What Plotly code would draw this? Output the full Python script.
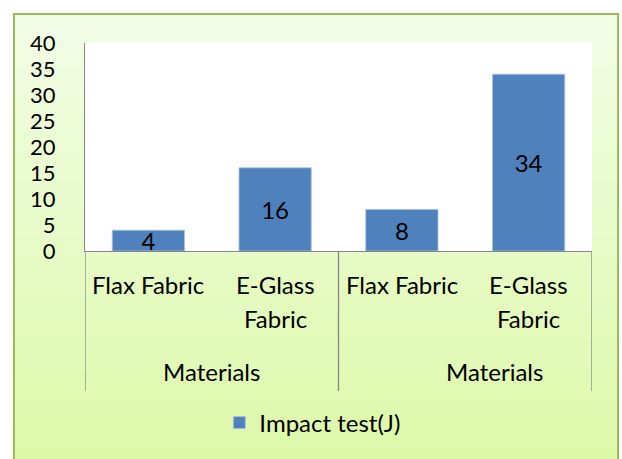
import plotly.graph_objects as go

# ---- data ----
categories = ["Flax Fabric", "E-Glass\nFabric", "Flax Fabric", "E-Glass\nFabric"]
groups = ["Materials", "Materials"]
group_sizes = [2, 2]
impact_values = [4, 16, 8, 34]
series_name = "Impact test(J)"
y_ticks = [0, 5, 10, 15, 20, 25, 30, 35, 40]

W, H = 622, 459
L, R, T, B = 85, 30, 43, 208
PW, PH = W - L - R, H - T - B
FONT = "Lato"
FS = 24


def px_x(p):
    return (p - L) / PW


def px_y(p):
    return (H - B - p) / PH


x_pos = list(range(len(categories)))

fig = go.Figure()
fig.add_trace(go.Bar(
    x=x_pos, y=impact_values, name=series_name,
    text=[str(v) for v in impact_values],
    textposition="inside", insidetextanchor="middle", constraintext="none",
    textangle=0,
    textfont=dict(family=FONT, size=FS, color="black"),
    marker=dict(color="#4f81bd", line=dict(color="#a9c1df", width=0.8)),
    showlegend=True,
))

shapes = []
# gradient background inside the chart frame
top_c = (242, 253, 230)
bot_c = (220, 249, 168)
y_top, y_bot = 14, 470
n = 60
for i in range(n):
    t = i / (n - 1)
    c = tuple(round(top_c[k] + (bot_c[k] - top_c[k]) * t) for k in range(3))
    ya = y_top + (y_bot - y_top) * i / n
    yb = y_top + (y_bot - y_top) * (i + 1) / n + 1
    shapes.append(dict(type="rect", xref="paper", yref="paper", layer="below",
                       x0=px_x(14), x1=px_x(618), y0=px_y(ya), y1=px_y(yb),
                       fillcolor="rgb(%d,%d,%d)" % c, line=dict(width=0)))
# white plot area
shapes.append(dict(type="rect", xref="paper", yref="paper", layer="below",
                   x0=0, x1=1, y0=0, y1=1, fillcolor="white", line=dict(width=0)))
# frame border
shapes.append(dict(type="rect", xref="paper", yref="paper", layer="above",
                   x0=px_x(14), x1=px_x(618), y0=px_y(14), y1=px_y(480),
                   fillcolor="rgba(0,0,0,0)", line=dict(color="#9bbb59", width=2)))

# group dividers
bounds = [-0.5]
for s in group_sizes:
    bounds.append(bounds[-1] + s)
for b in bounds:
    shapes.append(dict(type="line", xref="x", yref="paper", x0=b, x1=b,
                       y0=0, y1=px_y(391), line=dict(color="#868686", width=1.3)))

annotations = []
for i, cat in enumerate(categories):
    for j, line in enumerate(cat.split("\n")):
        annotations.append(dict(x=i, y=0, xref="x", yref="paper", text=line,
                                showarrow=False, yanchor="middle", xanchor="center",
                                yshift=-(33 + 34 * j),
                                font=dict(family=FONT, size=FS, color="black")))
group_shift = [0, 29]
for g, name in enumerate(groups):
    center = (bounds[g] + bounds[g + 1]) / 2
    annotations.append(dict(x=center, y=0, xref="x", yref="paper", text=name,
                            showarrow=False, yanchor="middle", xanchor="center",
                            yshift=-120, xshift=group_shift[g],
                            font=dict(family=FONT, size=FS, color="black")))

fig.update_layout(
    width=W, height=H,
    margin=dict(l=L, r=R, t=T, b=B, pad=0),
    paper_bgcolor="white", plot_bgcolor="rgba(0,0,0,0)",
    bargap=0.43,
    shapes=shapes, annotations=annotations,
    showlegend=True,
    legend=dict(orientation="h", xref="container", yref="container",
                x=0.503, xanchor="center", y=1 - 423 / H, yanchor="middle",
                bgcolor="rgba(0,0,0,0)",
                font=dict(family=FONT, size=FS, color="black")),
    xaxis=dict(range=[-0.5, len(categories) - 0.5], showticklabels=False,
               showgrid=False, zeroline=False, showline=True,
               linecolor="#868686", linewidth=1.3, ticks=""),
    yaxis=dict(range=[0, 40], tickvals=y_ticks, showgrid=False, zeroline=False,
               showline=True, linecolor="#868686", linewidth=1.3, ticks="",
               ticklabelstandoff=24,
               tickfont=dict(family=FONT, size=22, color="black")),
)

fig.write_html("out.html")
